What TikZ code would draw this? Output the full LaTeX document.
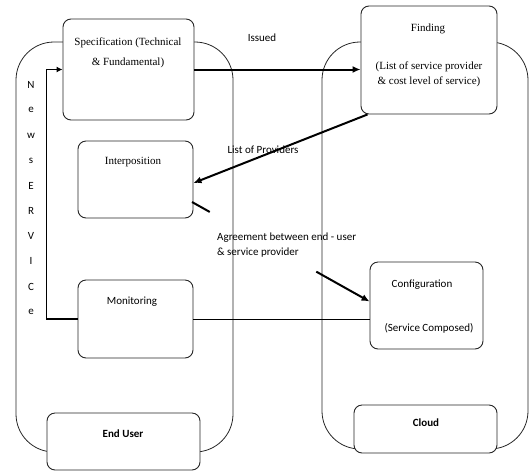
\documentclass[tikz,border=0pt]{standalone}
\usepackage{fontspec}
\setmainfont{Liberation Serif}
\newfontfamily\calib{Carlito}
\usetikzlibrary{arrows.meta,calc}

\begin{document}
\begin{tikzpicture}[x=1pt, y=-1pt, >={Latex[length=8pt,width=7pt]},
    zone/.style={draw=black!85, line width=0.8pt, rounded corners=38pt, inner sep=0pt},
    box/.style={draw=black!85, line width=0.9pt, rounded corners=8pt, fill=white, inner sep=0pt},
    serif/.style={font=\fontsize{11}{15}\selectfont, inner sep=0pt, align=center},
    sans/.style={font=\calib\fontsize{11}{15}\selectfont, inner sep=0pt, align=center},
    flow/.style={->, line width=2pt}]
    \useasboundingbox (0,0) rectangle (530,472);

    % the two sides
    \node[zone, minimum width=217, minimum height=410] (userzone) at (124.5,247) {};
    \node[zone, minimum width=206, minimum height=407] (cloudzone) at (425,245.5) {};

    % boxes
    \node[box, minimum width=131, minimum height=101] (spec) at (128.5,69.5) {};
    \node[box, minimum width=136, minimum height=108] (find) at (429,60) {};
    \node[box, minimum width=115, minimum height=77] (interp) at (135.5,179.5) {};
    \node[box, minimum width=115, minimum height=78] (mon) at (135.5,319) {};
    \node[box, minimum width=113, minimum height=87] (config) at (426.5,305.5) {};
    \node[box, minimum width=153, minimum height=57] (enduser) at (123.5,441.5) {};
    \node[box, minimum width=143, minimum height=48] (cloud) at (425.5,429) {};

    % box texts
    \node[serif, font=\fontsize{11}{20}\selectfont] (specT) at (128,53) {Specification (Technical\\ \& Fundamental)};
    \node[serif] (findT) at (428,29) {Finding};
    \node[serif] (findL) at (429,74.5) {(List of service provider\\ \& cost level of service)};
    \node[serif] (interpT) at (133,162) {Interposition};
    \node[sans] (monT) at (132,302) {Monitoring};
    \node[sans] (configT) at (422,285) {Configuration};
    \node[sans] (configL) at (429,328) {(Service Composed)};
    \node[sans, font=\calib\bfseries\fontsize{11}{15}\selectfont] (enduserT) at (123,434) {End User};
    \node[sans, font=\calib\bfseries\fontsize{11}{15}\selectfont] (cloudT) at (426,423) {Cloud};

    % vertical word on the left
    \foreach \l [count=\i from 0] in {N,e,w,s,E,R,V,I,C,e}
      \node[sans] (ns\i) at (31,{85+25.2*\i}) {\l};

    % labels
    \node[sans] (issued) at (262,38) {Issued};
    \node[sans] (provlbl) at (263,150) {List of Providers};
    \node[sans, align=left, anchor=west] (agree) at (217,245.5) {Agreement between end - user\\ \& service provider};

    % arrows
    \draw[flow] (spec.east) -- (spec.east -| find.west);
    \draw[flow] ([xshift=7pt]find.south west) -- ([yshift=-3.5pt]interp.east);

    \coordinate (agS) at (192,202);
    \coordinate (agE) at ([yshift=4pt]config.west);
    \draw[line width=2pt] (agS) -- ($(agS)!0.1!(agE)$);
    \draw[flow] ($(agS)!0.7!(agE)$) -- (agE);

    \draw[line width=0.9pt] (mon.east) -- (mon.east -| config.west);
    \draw[->, >={Latex[length=6pt,width=6pt]}, line width=1.2pt] (mon.west) -- ++(-31,0) |- (spec.west);
  \end{tikzpicture}
\end{document}
